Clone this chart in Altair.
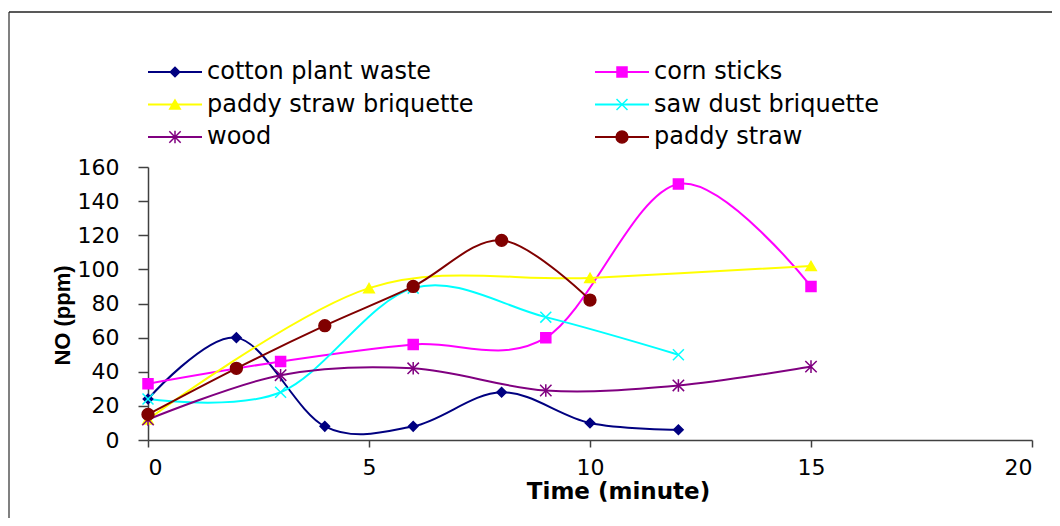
import altair as alt
import pandas as pd

series_names = ["cotton plant waste", "corn sticks", "paddy straw briquette",
                "saw dust briquette", "wood", "paddy straw"]
series_colors = ["#000080", "#FF00FF", "#FFFF00", "#00FFFF", "#800080", "#800000"]
series_shapes = [
    "diamond",
    "square",
    "triangle-up",
    "M-1,-1L1,1M-1,1L1,-1",
    "M-1,-1L1,1M-1,1L1,-1M0,-1.1L0,1.1",
    "circle",
]
series_sizes = [90, 140, 150, 130, 130, 150]
legend_sizes = [60, 110, 120, 110, 110, 110]

cotton_t = [0, 2, 4, 6, 8, 10, 12]
cotton_v = [24, 60, 8, 8, 28, 10, 6]
corn_t = [0, 3, 6, 9, 12, 15]
corn_v = [33, 46, 56, 60, 150, 90]
pbriq_t = [0, 5, 10, 15]
pbriq_v = [12, 89, 95, 102]
saw_t = [0, 3, 6, 9, 12]
saw_v = [24, 28, 89, 72, 50]
wood_t = [0, 3, 6, 9, 12, 15]
wood_v = [12, 38, 42, 29, 32, 43]
paddy_t = [0, 2, 4, 6, 8, 10]
paddy_v = [15, 42, 67, 90, 117, 82]

x_ticks = [0, 5, 10, 15, 20]
y_ticks = [0, 20, 40, 60, 80, 100, 120, 140, 160]

all_t = [cotton_t, corn_t, pbriq_t, saw_t, wood_t, paddy_t]
all_v = [cotton_v, corn_v, pbriq_v, saw_v, wood_v, paddy_v]
rows = []
for name, ts, vs in zip(series_names, all_t, all_v):
    for t, v in zip(ts, vs):
        rows.append({"series": name, "time": t, "value": v})
df = pd.DataFrame(rows)

legend_df = pd.DataFrame({
    "series": series_names,
    "col": [i % 2 for i in range(len(series_names))],
    "row": [i // 2 for i in range(len(series_names))],
})

W, H = 884, 273

color_scale = alt.Scale(domain=series_names, range=series_colors)
shape_scale = alt.Scale(domain=series_names, range=series_shapes)
size_scale = alt.Scale(domain=series_names, range=series_sizes)
lsize_scale = alt.Scale(domain=series_names, range=legend_sizes)

x_axis = alt.Axis(values=x_ticks, title="Time (minute)", grid=False,
                  tickSize=7, labelPadding=10, titlePadding=2,
                  titleX=470, format="d", labelOverlap=False,
                  titleFontSize=23)
y_axis = alt.Axis(values=y_ticks, title="NO (ppm)", grid=False,
                  tickSize=10, labelPadding=19, titlePadding=3,
                  titleY=148, titleFont="Liberation Sans",
                  titleFontSize=22, format="d", labelOverlap=False,
                  tickCount=9)
x_enc = alt.X("time:Q", scale=alt.Scale(domain=[0, 20], nice=False), axis=x_axis)
y_enc = alt.Y("value:Q", scale=alt.Scale(domain=[0, 160], nice=False), axis=y_axis)

base = alt.Chart(df)
lines = base.mark_line(interpolate="cardinal", strokeWidth=2).encode(
    x=x_enc, y=y_enc,
    color=alt.Color("series:N", scale=color_scale, legend=None),
    detail="series:N",
)
points = base.mark_point(filled=True, opacity=1, strokeWidth=1.5).encode(
    x=x_enc, y=y_enc,
    color=alt.Color("series:N", scale=color_scale, legend=None),
    stroke=alt.Stroke("series:N", scale=color_scale, legend=None),
    shape=alt.Shape("series:N", scale=shape_scale, legend=None),
    size=alt.Size("series:N", scale=size_scale, legend=None),
)
main = alt.layer(lines, points)

lx = alt.X("col:Q", scale=alt.Scale(domain=[0, 1], range=[27, 474]), axis=None)
ly = alt.Y("row:Q", scale=alt.Scale(domain=[0, 2], range=[-95, -30]), axis=None)
lbase = alt.Chart(legend_df)
leg_line = lbase.mark_point(shape="M-1,0L1,0", size=2916, strokeWidth=2,
                            opacity=1, filled=False).encode(
    x=lx, y=ly,
    stroke=alt.Stroke("series:N", scale=color_scale, legend=None),
)
leg_pt = lbase.mark_point(filled=True, opacity=1, strokeWidth=1.5).encode(
    x=lx, y=ly,
    color=alt.Color("series:N", scale=color_scale, legend=None),
    stroke=alt.Stroke("series:N", scale=color_scale, legend=None),
    shape=alt.Shape("series:N", scale=shape_scale, legend=None),
    size=alt.Size("series:N", scale=lsize_scale, legend=None),
)
leg_txt = lbase.mark_text(align="left", baseline="middle", dx=32, fontSize=24,
                          font="DejaVu Sans", color="black").encode(
    x=lx, y=ly, text="series:N",
)
legend = alt.layer(leg_line, leg_pt, leg_txt)

frame_data = alt.Data(values=[{"k": 1}])
frame_left = alt.Chart(frame_data).mark_rule(color="#808080", strokeWidth=2).encode(
    x=alt.value(-139), y=alt.value(-155), y2=alt.value(H + 80))
frame_top = alt.Chart(frame_data).mark_rule(color="#222222", strokeWidth=1.5).encode(
    x=alt.value(-139), x2=alt.value(W + 30), y=alt.value(-155))
frame = alt.layer(frame_left, frame_top)

chart = alt.layer(main, legend, frame).resolve_scale(
    x="independent", y="independent"
).properties(
    width=W, height=H,
    autosize=alt.AutoSizeParams(type="none"),
    padding={"left": 140, "top": 159, "right": 20, "bottom": 78},
    background="white",
).configure_view(stroke=None).configure_axis(
    domainColor="#404040", domainWidth=1.5, tickColor="#404040", tickWidth=1.5,
    labelFont="DejaVu Sans", labelFontSize=22, labelColor="black",
    titleFont="DejaVu Sans", titleFontSize=22, titleFontWeight="bold",
    titleColor="black", labelOverlap=False,
)

chart.save("out.html", embed_options={"renderer": "svg", "actions": False})
